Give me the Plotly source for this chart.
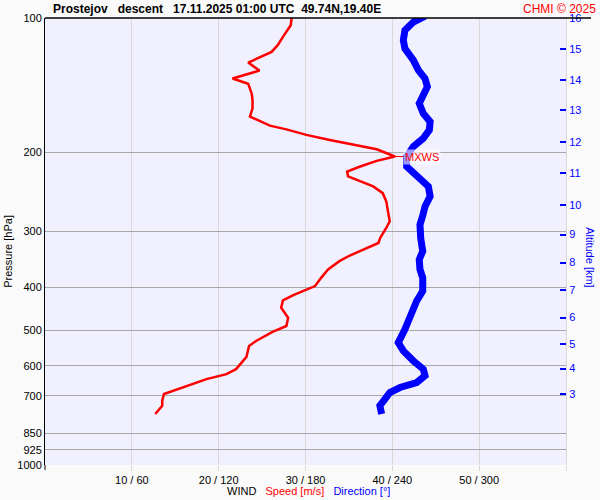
import math
import plotly.graph_objects as go

# ---- data ----
speed_p = [100.0, 103.8, 110.2, 115.0, 119.1, 121.5, 125.8, 131.1, 133.1, 136.6, 140.3, 147.5,
           152.6, 159.3, 166.2, 170.6, 174.1, 177.5, 182.6, 187.4, 191.7, 196.6, 204.1, 208.7,
           214.9, 220.5, 226.2, 230.1, 238.1, 246.5, 257.2, 270.8, 285.0, 295.0, 310.5, 318.6,
           326.9, 339.9, 349.9, 365.2, 381.3, 397.9, 408.2, 416.7, 428.3, 444.8, 468.2, 488.7,
           503.9, 527.8, 541.5, 573.0, 610.4, 626.2, 642.5, 662.6, 682.3, 693.9, 718.2, 736.8,
           768.9]
speed_ms = [28.4, 28.3, 27.4, 26.8, 26.1, 25.1, 23.4, 24.7, 23.6, 21.6, 23.4, 23.8,
            23.9, 23.9, 23.6, 24.9, 25.9, 27.8, 30.1, 32.8, 35.5, 38.2, 40.3, 38.2,
            36.3, 34.8, 34.9, 35.9, 37.8, 38.9, 39.3, 39.5, 39.7, 39.3, 38.6, 38.4,
            37.0, 35.1, 33.9, 32.6, 31.8, 31.1, 29.7, 28.6, 27.4, 27.2, 28.0, 27.8,
            26.2, 24.3, 23.5, 23.2, 22.0, 20.9, 18.6, 16.6, 14.7, 13.7, 13.5, 13.5,
            12.7]

dir_p = [99.0, 102.1, 106.5, 112.1, 117.1, 124.2, 130.8, 136.6, 142.5, 148.7, 155.3, 163.5,
         170.6, 178.0, 185.8, 193.9, 204.1, 214.9, 226.2, 238.1, 250.7, 263.9, 275.4, 289.9,
         310.5, 332.5, 346.9, 365.2, 381.3, 408.2, 429.7, 460.1, 497.0, 532.4, 555.6, 584.8,
         610.4, 631.6, 653.9, 670.8, 688.3, 712.0, 736.8, 768.9]
dir_deg = [262.6, 254.5, 248.7, 247.6, 248.7, 254.5, 258.0, 262.6, 264.2, 261.9, 258.6, 261.4,
           266.1, 265.6, 261.4, 254.5, 249.9, 249.9, 256.8, 264.9, 266.1, 262.6, 261.2, 259.1,
           259.6, 261.0, 258.6, 259.1, 261.0, 261.0, 256.8, 253.4, 248.7, 244.1, 247.6, 254.5,
           261.4, 262.6, 256.8, 245.3, 238.3, 234.9, 231.4, 232.6]

pressure_ticks = [100, 200, 300, 400, 500, 600, 700, 850, 925, 1000]
alt_km = [16, 15, 14, 13, 12, 11, 10, 9, 8, 7, 6, 5, 4, 3]
alt_p = [100.0, 117.2, 137.5, 160.9, 189.8, 222.1, 261.7, 305.1, 352.6, 407.0, 468.0, 535.7,
         608.7, 693.0]

wind_ticks = [10, 20, 30, 40, 50, 60]
wind_labels = ["10 / 60", "20 / 120", "30 / 180", "40 / 240", "50 / 300", ""]

FONT = "Liberation Sans, Arial, sans-serif"

# max wind
imax = max(range(len(speed_ms)), key=lambda i: speed_ms[i])
mx_p = speed_p[imax]
mx_v = speed_ms[imax]

fig = go.Figure()
fig.add_trace(go.Scatter(x=dir_deg, y=dir_p, mode="lines", xaxis="x2", yaxis="y",
                         line=dict(color="#0000ff", width=7), cliponaxis=False,
                         hoverinfo="skip", showlegend=False))
fig.add_trace(go.Scatter(x=speed_ms, y=speed_p, mode="lines", xaxis="x", yaxis="y",
                         line=dict(color="#ff0000", width=2.5), cliponaxis=False,
                         hoverinfo="skip", showlegend=False))
# dummy trace so that the altitude axis is drawn
fig.add_trace(go.Scatter(x=[None], y=[None], xaxis="x", yaxis="y2", mode="markers",
                         hoverinfo="skip", showlegend=False))

fig.update_layout(
    width=600, height=500,
    margin=dict(l=45, r=34, t=16, b=35),
    paper_bgcolor="#fafafa",
    plot_bgcolor="#f0f0ff",
    font=dict(family=FONT, size=11, color="black"),
    xaxis=dict(range=[0, 60], tickvals=wind_ticks, ticktext=wind_labels,
               showgrid=True, gridcolor="#d8d8d8", gridwidth=1,
               ticks="outside", ticklen=5, tickcolor="#d8d8d8",
               showline=False, zeroline=False, tickfont=dict(size=11, color="black")),
    xaxis2=dict(range=[0, 360], overlaying="x", visible=False),
    yaxis=dict(type="log", range=[3, 2], tickvals=pressure_ticks,
               ticktext=[str(v) for v in pressure_ticks],
               showgrid=True, gridcolor="#a8a8a8", gridwidth=1,
               showline=True, linecolor="black", linewidth=1, ticks="",
               zeroline=False, tickfont=dict(size=11, color="black")),
    yaxis2=dict(type="log", range=[3, 2], overlaying="y", side="right",
                tickvals=alt_p, ticktext=[str(v) for v in alt_km],
                ticks="inside", ticklen=6, tickwidth=1.5, tickcolor="#0000ff",
                showgrid=False, showline=True, linecolor="#d8d8d8", linewidth=1,
                zeroline=False, tickfont=dict(size=11, color="#0000ff")),
)

shapes = [
    dict(type="line", xref="paper", yref="paper", x0=0, x1=1.048, y0=1, y1=1,
         line=dict(color="black", width=1.5)),
    dict(type="line", xref="paper", yref="paper", x0=0, x1=0, y0=-0.011, y1=0,
         line=dict(color="black", width=1)),
    dict(type="line", xref="paper", yref="y", x0=-0.004, x1=0.019,
         y0=math.log10(mx_p), y1=math.log10(mx_p), line=dict(color="#ff0000", width=1)),
    dict(type="line", xref="paper", yref="y", x0=0.979, x1=1.004,
         y0=math.log10(mx_p), y1=math.log10(mx_p), line=dict(color="#ff0000", width=1)),
]
fig.update_layout(shapes=shapes)

annotations = [
    dict(text="<b>Prostejov&nbsp;&nbsp;&nbsp;descent&nbsp;&nbsp;&nbsp;17.11.2025 01:00 UTC&nbsp;&nbsp;49.74N,19.40E</b>",
         xref="paper", yref="paper", x=(51 - 45) / 521, y=1, xanchor="left", yanchor="bottom",
         yshift=0, showarrow=False, font=dict(size=12, color="black")),
    dict(text="CHMI © 2025", xref="paper", yref="paper", x=(598 - 45) / 521, y=1,
         xanchor="right", yanchor="bottom", showarrow=False,
         font=dict(size=12, color="#ff0000")),
    dict(text="Pressure [hPa]", xref="paper", yref="paper", x=-37 / 521, y=0.477,
         xanchor="center", yanchor="middle", textangle=-90, showarrow=False,
         font=dict(size=11, color="black")),
    dict(text="Altitude [km]", xref="paper", yref="paper", x=(590 - 45) / 521, y=0.465,
         xanchor="center", yanchor="middle", textangle=90, showarrow=False,
         font=dict(size=11, color="#0000ff")),
    dict(text="WIND&nbsp;&nbsp;&nbsp;<span style='color:#ff0000'>Speed [m/s]</span>&nbsp;&nbsp;&nbsp;<span style='color:#0000ff'>Direction [°]</span>",
         xref="paper", yref="paper", x=(225 - 45) / 521, y=-26 / 449,
         xanchor="left", yanchor="middle", showarrow=False,
         font=dict(size=11, color="black")),
    dict(text="MXWS", x=mx_v, y=math.log10(mx_p), xref="x", yref="y",
         showarrow=True, arrowhead=0, arrowcolor="#ff0000", arrowwidth=1,
         ax=27, ay=0, bgcolor="rgba(255,255,255,0.6)",
         font=dict(size=11, color="#ff0000"), borderpad=1),
]
fig.update_layout(annotations=annotations)

fig.write_html("out.html", config={"displayModeBar": False},
               post_script="document.body.style.margin='0';document.body.style.padding='0';")
